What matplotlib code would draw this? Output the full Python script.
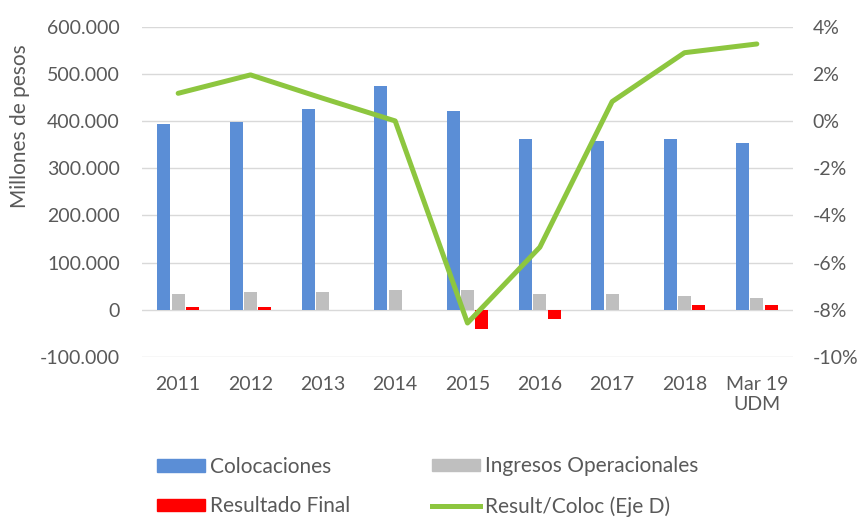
import matplotlib
matplotlib.use("Agg")
import matplotlib.pyplot as plt
import numpy as np
from matplotlib.ticker import FuncFormatter
from matplotlib.patches import Patch
from matplotlib.lines import Line2D

categories = ["2011", "2012", "2013", "2014", "2015", "2016", "2017", "2018", "Mar 19\nUDM"]
colocaciones = [393000, 397000, 425000, 473000, 420000, 362000, 358000, 362000, 354000]
ingresos = [34000, 38000, 38000, 41000, 41000, 34000, 34000, 29000, 25500]
resultado = [5000, 6000, 0, 0, -40000, -20000, 0, 10000, 10000]
ratio = [1.17, 1.95, 0.96, 0.0, -8.56, -5.35, 0.82, 2.89, 3.26]

plt.rcParams['font.family'] = ['Lato', 'DejaVu Sans']
txt = '#595959'
grid = '#D9D9D9'

fig = plt.figure(figsize=(8.59, 5.17), dpi=100)
ax = fig.add_axes([142/859, 1-357/517, (793-142)/859, (357-26.5)/517])
ax2 = ax.twinx()

x = np.arange(len(categories))
w = 0.18
off = 0.2
ax.bar(x - off, colocaciones, w, color='#5B8ED6', zorder=2)
ax.bar(x, ingresos, w, color='#BFBFBF', zorder=2)
ax.bar(x + off, resultado, w, color='#FF0000', zorder=2)

ax2.plot(x, ratio, color='#8DC63F', lw=3.6, solid_capstyle='round', zorder=3)

ax.set_xlim(-0.5, len(categories) - 0.5)
ax.set_ylim(-100000, 600000)
ax.set_yticks(np.arange(-100000, 600001, 100000))
ax.yaxis.set_major_formatter(FuncFormatter(lambda v, p: f"{int(v):,}".replace(",", ".")))
ax.yaxis.grid(True, color=grid, lw=1.0, zorder=0)
ax.set_axisbelow(True)
ax2.set_ylim(-10, 4)
ax2.set_yticks(np.arange(-10, 5, 2))
ax2.yaxis.set_major_formatter(FuncFormatter(lambda v, p: f"{int(v)}%"))

ax.set_xticks(x)
ax.set_xticklabels(categories)

for a in (ax, ax2):
    for s in a.spines.values():
        s.set_visible(False)
ax.tick_params(axis='y', length=0, labelcolor=txt, labelsize=14, pad=16)
ax2.tick_params(axis='y', length=0, labelcolor=txt, labelsize=14, pad=14)
ax.tick_params(axis='x', length=0, labelcolor=txt, labelsize=14, pad=14)
for t in ax.get_xticklabels():
    t.set_linespacing(1.15)

fig.text(20/859, 1-126/517, "Millones de pesos", rotation=90, ha='center', va='center',
         color=txt, fontsize=15)

common = dict(loc='center left', frameon=False, fontsize=15, handlelength=2.3,
              handleheight=0.55, handletextpad=0.25, labelspacing=0.95,
              borderaxespad=0, borderpad=0, labelcolor=txt)
fig.legend([Patch(color='#5B8ED6'), Patch(color='#FF0000')],
           ["Colocaciones", "Resultado Final"],
           bbox_to_anchor=(157/859, 1-486.5/517), **common)
fig.legend([Patch(color='#BFBFBF'), Line2D([], [], color='#8DC63F', lw=3.6)],
           ["Ingresos Operacionales", "Result/Coloc (Eje D)"],
           bbox_to_anchor=(432/859, 1-486.5/517), **common)

fig.savefig("out.png", dpi=100)
